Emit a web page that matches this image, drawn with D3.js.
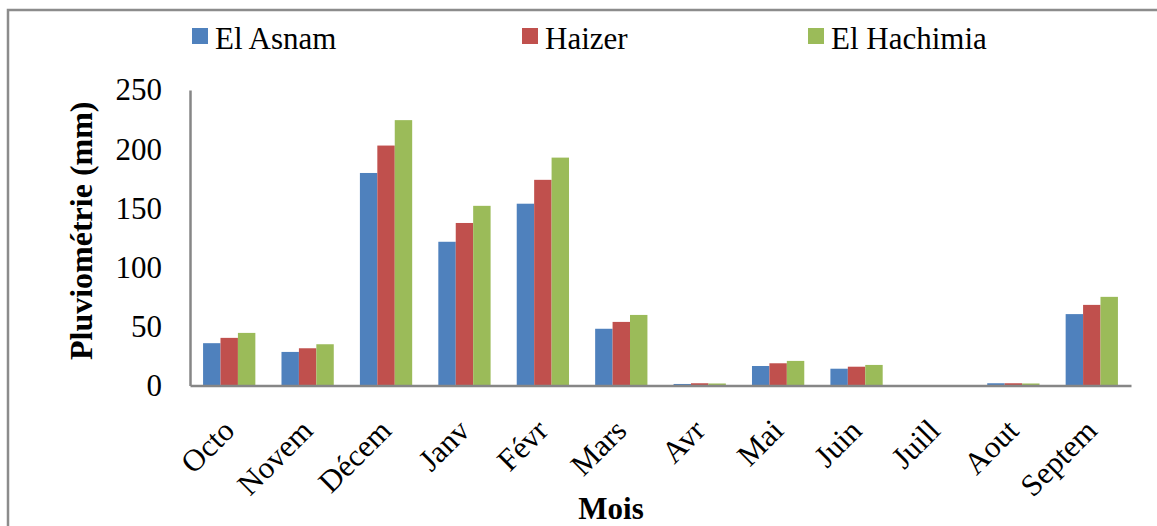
<!DOCTYPE html>
<html>
<head>
<meta charset="utf-8">
<script src="https://cdn.jsdelivr.net/npm/d3@7/dist/d3.min.js"></script>
<style>
  html, body { margin: 0; padding: 0; background: #fff; }
  svg { display: block; font-family: "Liberation Serif", "Times New Roman", serif; }
</style>
</head>
<body>
<svg id="chart" width="1157" height="526"></svg>
<script>
const months = ["Octo", "Novem", "Décem", "Janv", "Févr", "Mars", "Avr", "Mai", "Juin", "Juill", "Aout", "Septem"];
const seriesNames = ["El Asnam", "Haizer", "El Hachimia"];
const elAsnam    = [35.8, 28.4, 179.8, 121.6, 153.8, 48.0, 1.3, 16.5, 14.2, 0, 1.9, 60.4];
const haizer     = [40.3, 31.5, 203.0, 137.5, 174.0, 53.8, 1.9, 18.8, 15.9, 0, 1.9, 68.2];
const elHachimia = [44.5, 34.9, 224.5, 152.0, 192.8, 59.7, 1.7, 20.8, 17.4, 0, 1.7, 75.0];
const yTicks = [0, 50, 100, 150, 200, 250];
const colors = ["#4F81BD", "#C0504D", "#9BBB59"];

const seriesValues = [elAsnam, haizer, elHachimia];
const svg = d3.select("#chart");

// frame (left and top edges visible)
svg.append("rect").attr("x", 8).attr("y", 10).attr("width", 1200).attr("height", 600)
  .attr("fill", "none").attr("stroke", "#8c8c8c").attr("stroke-width", 2.5);

const x0 = 190, x1 = 1131, yTop = 90, yBot = 385.5;
const x = d3.scaleBand().domain(months).range([x0, x1]).paddingInner(1/3).paddingOuter(1/6);
const xs = d3.scaleBand().domain(seriesNames).range([0, x.bandwidth()]);
const y = d3.scaleLinear().domain([0, 250]).range([yBot, yTop]);

// bars
seriesNames.forEach((s, si) => {
  svg.append("g").selectAll("rect").data(months).join("rect")
    .attr("x", d => x(d) + xs(s))
    .attr("width", xs.bandwidth())
    .attr("y", (d, i) => y(seriesValues[si][i]))
    .attr("height", (d, i) => yBot - y(seriesValues[si][i]))
    .attr("fill", colors[si]);
});

// y axis
const yAxis = d3.axisLeft(y).tickValues(yTicks).tickSize(0).tickPadding(28).tickFormat(d3.format("d"));
const gy = svg.append("g").attr("transform", `translate(${x0},0)`).call(yAxis);
gy.select(".domain").attr("stroke", "#868686").attr("stroke-width", 2.5);
gy.selectAll("text").attr("font-size", 31).attr("font-family", "Liberation Serif").attr("fill", "#000");

// x axis
const xAxis = d3.axisBottom(x).tickSize(0).tickFormat(() => "");
const gx = svg.append("g").attr("transform", `translate(0,${yBot})`).call(xAxis);
gx.select(".domain").attr("stroke", "#868686").attr("stroke-width", 2.5);

// x labels rotated
svg.append("g").selectAll("text").data(months).join("text")
  .attr("transform", d => `translate(${x(d) + x.bandwidth()/2 + 7},${yBot + 47}) rotate(-45)`)
  .attr("text-anchor", "end")
  .attr("font-size", 31)
  .attr("fill", "#000")
  .text(d => d);

// axis titles
svg.append("text")
  .attr("transform", `translate(92,${(yTop + yBot)/2 - 7}) rotate(-90)`)
  .attr("text-anchor", "middle")
  .attr("font-size", 32).attr("font-weight", "bold")
  .text("Pluviométrie (mm)");

svg.append("text")
  .attr("x", 611).attr("y", 519)
  .attr("text-anchor", "middle")
  .attr("font-size", 31).attr("font-weight", "bold")
  .text("Mois");

// legend
const legendX = [192, 522, 808];
const lg = svg.append("g");
seriesNames.forEach((s, i) => {
  lg.append("rect").attr("x", legendX[i]).attr("y", 28).attr("width", 16).attr("height", 16).attr("fill", colors[i]);
  lg.append("text").attr("x", legendX[i] + 23).attr("y", 49).attr("font-size", 31).attr("fill", "#000").text(s);
});
</script>
</body>
</html>
